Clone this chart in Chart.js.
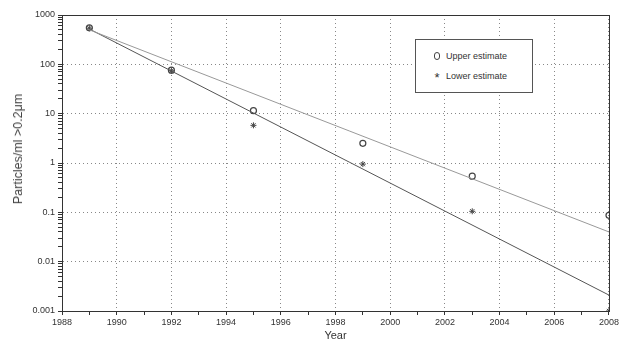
<!DOCTYPE html>
<html>
<head>
<meta charset="utf-8">
<script src="https://cdn.jsdelivr.net/npm/chart.js@4"></script>
<style>
  html, body { margin: 0; padding: 0; background: #fff; }
  #wrap { position: relative; width: 621px; height: 343px; }
  #legend {
    position: absolute; left: 415px; top: 39px; width: 116px; height: 52px;
    border: 1px solid #555; background: #fff;
    font: 9px "Liberation Sans", Arial, sans-serif; color: #333;
  }
  #legend div { position: absolute; left: 16px; height: 12px; line-height: 12px; }
  .sym { display: inline-block; width: 10px; text-align: center; margin-right: 4px; }
  .circ { display: inline-block; width: 4px; height: 6px; border: 1px solid #444; border-radius: 3px; vertical-align: -1px; }
  .star { font-size: 13px; vertical-align: -3px; }
  #ytitle {
    position: absolute; left: 18px; top: 149px; white-space: nowrap;
    transform: translate(-50%, -50%) rotate(-90deg);
    font: 12.5px "Liberation Sans", Arial, sans-serif; color: #444;
  }
</style>
</head>
<body>
<div id="wrap">
  <canvas id="chart" width="621" height="343"></canvas>
  <div id="ytitle">Particles/ml &gt;0.2μm</div>
  <div id="legend">
    <div style="top:10px"><span class="sym"><span class="circ"></span></span>Upper estimate</div>
    <div style="top:30px"><span class="sym"><span class="star">*</span></span>Lower estimate</div>
  </div>
</div>
<script>
const years = [1989, 1992, 1995, 1999, 2003, 2008];
const upper = [550, 76, 11.5, 2.5, 0.54, 0.087];
const lower = [540, 74, 5.8, 0.95, 0.105, 0.001];

const fitYears = [1989, 2008];
const upperFit = [500, 0.04];
const lowerFit = [520, 0.0021];

const yTickValues = [0.001, 0.01, 0.1, 1, 10, 100, 1000];
const yTickLabels = ["0.001", "0.01", "0.1", "1", "10", "100", "1000"];

function pts(xs, ys) {
  return xs.map((x, i) => ({ x: x, y: ys[i] }));
}

function isDecade(v) {
  const e = Math.log10(v);
  return Math.abs(e - Math.round(e)) < 1e-6;
}

const tickFont = { family: "'Liberation Sans', Arial, sans-serif", size: 9 };

const frame = {
  id: "frame",
  afterDraw(chart) {
    const a = chart.chartArea;
    const ctx = chart.ctx;
    ctx.save();
    ctx.strokeStyle = "#333";
    ctx.lineWidth = 1;
    ctx.strokeRect(a.left + 0.5, a.top + 0.5, a.right - a.left, a.bottom - a.top);
    ctx.restore();
  }
};

new Chart(document.getElementById("chart"), {
  type: "scatter",
  data: {
    datasets: [
      {
        label: "Upper fit",
        data: pts(fitYears, upperFit),
        showLine: true, pointRadius: 0,
        borderColor: "#999", borderWidth: 1
      },
      {
        label: "Lower fit",
        data: pts(fitYears, lowerFit),
        showLine: true, pointRadius: 0,
        borderColor: "#555", borderWidth: 1
      },
      {
        label: "Upper estimate",
        data: pts(years, upper),
        pointStyle: "circle", pointRadius: 3,
        borderColor: "#444", backgroundColor: "rgba(0,0,0,0)", borderWidth: 1.2
      },
      {
        label: "Lower estimate",
        data: pts(years, lower),
        pointStyle: "star", pointRadius: 3,
        borderColor: "#444", borderWidth: 1
      }
    ]
  },
  options: {
    responsive: false,
    animation: false,
    layout: { padding: { top: 15, right: 10, left: 0, bottom: 0 } },
    plugins: { legend: { display: false }, tooltip: { enabled: false } },
    scales: {
      x: {
        type: "linear",
        min: 1988, max: 2008,
        afterFit(s) { s.height = 32; },
        ticks: {
          stepSize: 1, autoSkip: false, maxRotation: 0,
          color: "#333", font: tickFont, padding: 2,
          callback: v => (v % 2 === 0 ? String(v) : "")
        },
        grid: {
          color: c => (c.tick && c.tick.value % 2 === 0 ? "#888" : "rgba(0,0,0,0)"),
          tickColor: "#333", tickLength: 4
        },
        border: { color: "#333", dash: [1, 3] },
        title: {
          display: true, text: "Year", color: "#333",
          font: { family: "'Liberation Sans', Arial, sans-serif", size: 11 },
          padding: { top: 0, bottom: 0 }
        }
      },
      y: {
        type: "logarithmic",
        min: 0.001, max: 1000,
        afterFit(s) { s.width = 62; },
        afterBuildTicks(s) {
          const t = [];
          for (let d = 0; d < yTickValues.length - 1; d++) {
            for (let m = 1; m < 10; m++) t.push({ value: yTickValues[d] * m });
          }
          t.push({ value: yTickValues[yTickValues.length - 1] });
          s.ticks = t;
        },
        ticks: {
          autoSkip: false, color: "#333", font: tickFont, padding: 3,
          callback: v => {
            if (!isDecade(v)) return "";
            const i = Math.round(Math.log10(v)) + 3;
            return yTickLabels[i];
          }
        },
        grid: {
          color: c => (c.tick && isDecade(c.tick.value) ? "#888" : "rgba(0,0,0,0)"),
          tickColor: "#333", tickLength: 4
        },
        border: { color: "#333", dash: [1, 3] }
      }
    }
  },
  plugins: [frame]
});
</script>
</body>
</html>
